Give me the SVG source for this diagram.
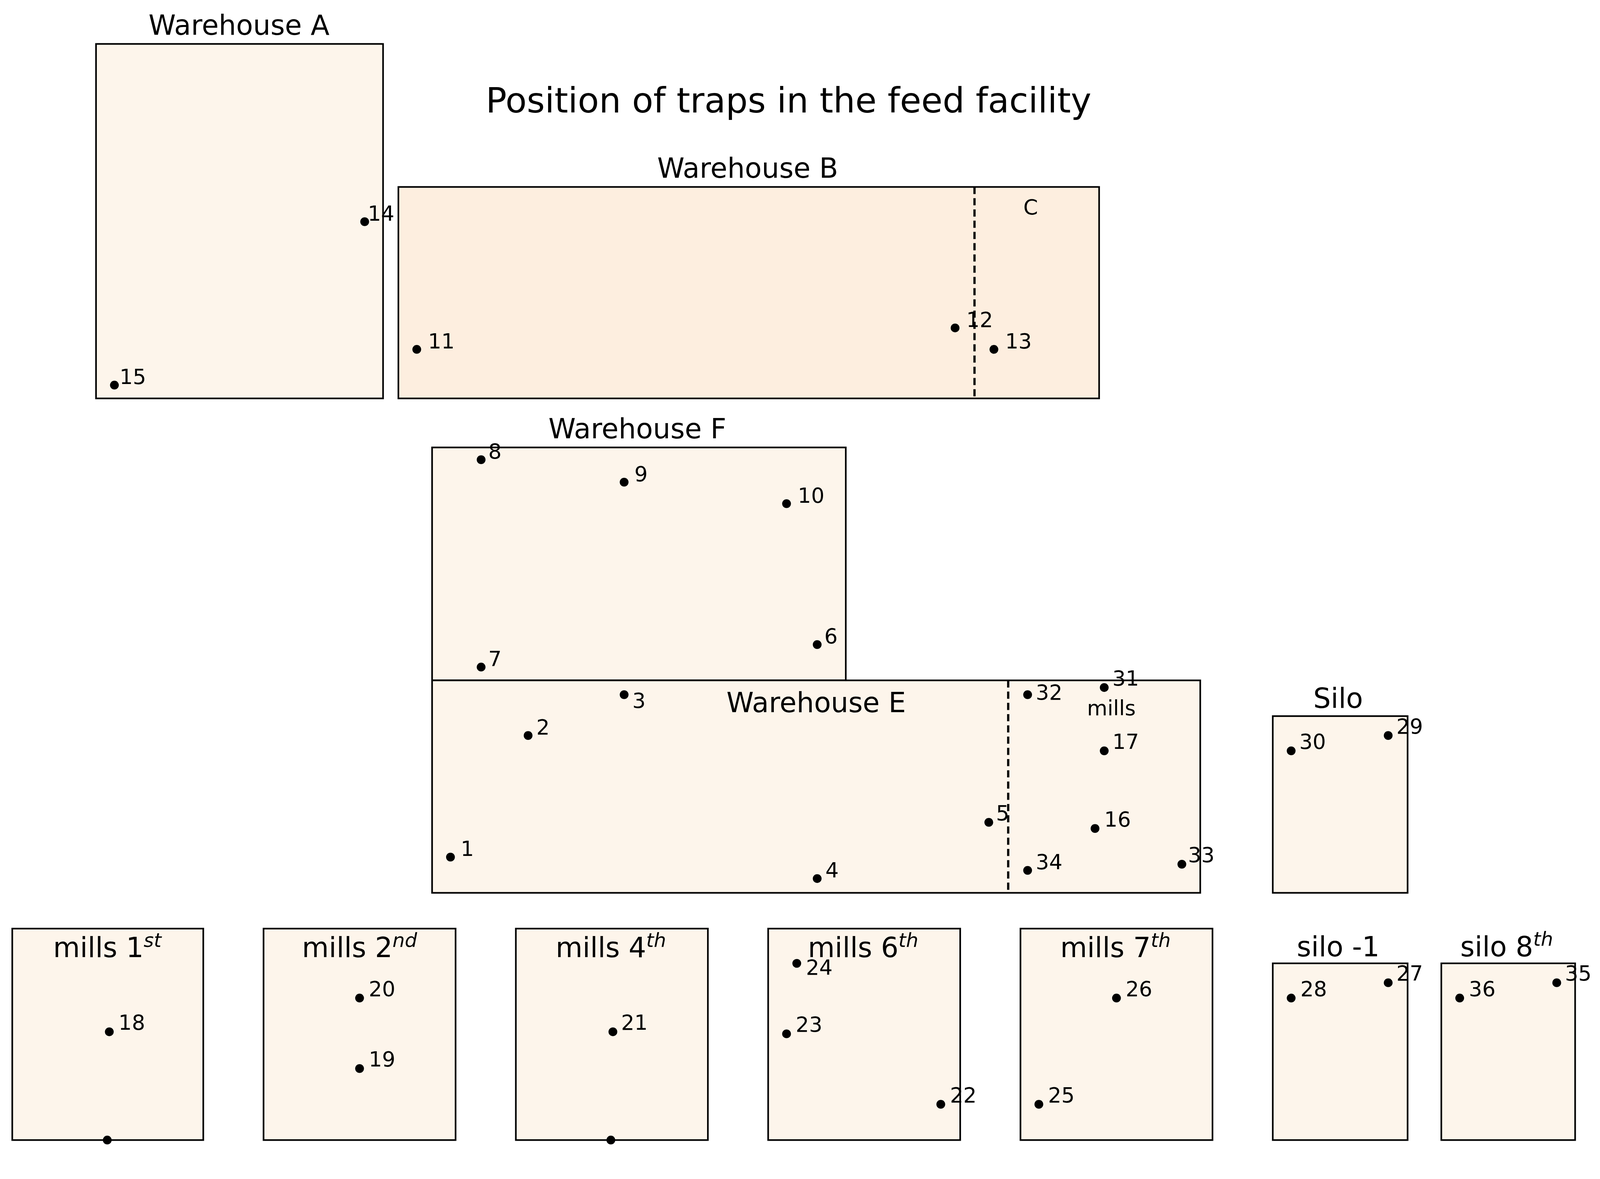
<svg xmlns="http://www.w3.org/2000/svg" width="4187" height="3018" viewBox="0 0 4187 3018">
<style>
.b{fill:#fdf5eb;stroke:#000;stroke-width:1.6}
.bb{fill:#fdeedf;stroke:#000;stroke-width:1.6}
.d{stroke:#000;stroke-width:2.2;stroke-dasharray:7,4;fill:none}
text{font-family:"DejaVu Sans","Liberation Sans",sans-serif;fill:#000}
.t{font-size:34px;text-anchor:middle}
.l{font-size:27px;text-anchor:middle}
.n{font-size:20.5px}
.s{font-size:19px;font-style:italic}
.p{fill:#000}
</style>
<rect width="4187" height="3018" fill="#fff"/>
<g transform="scale(2.615)">
<text class="t" x="772" y="110">Position of traps in the feed facility</text>
<g id="warehouseA"><rect class="b" x="94" y="43" width="281" height="347"/><text class="l" x="234" y="34">Warehouse A</text>
<circle class="p" cx="357" cy="217" r="4.3"/><text class="n" x="360" y="216">14</text>
<circle class="p" cx="112" cy="377" r="4.3"/><text class="n" x="117" y="376">15</text></g>
<g id="warehouseB"><rect class="bb" x="390" y="183" width="686" height="207"/><line class="d" x1="954" y1="183" x2="954" y2="390"/>
<text class="l" x="732" y="174">Warehouse B</text><text class="n" x="1009" y="210" text-anchor="middle">C</text>
<circle class="p" cx="408" cy="342" r="4.3"/><text class="n" x="419" y="341">11</text>
<circle class="p" cx="935" cy="321" r="4.3"/><text class="n" x="946" y="320">12</text>
<circle class="p" cx="973" cy="342" r="4.3"/><text class="n" x="984" y="341">13</text></g>
<g id="warehouseF"><rect class="b" x="423" y="438" width="405" height="228"/><text class="l" x="624" y="429">Warehouse F</text>
<circle class="p" cx="471" cy="450" r="4.3"/><text class="n" x="478" y="449">8</text>
<circle class="p" cx="611" cy="472" r="4.3"/><text class="n" x="621" y="471">9</text>
<circle class="p" cx="770" cy="493" r="4.3"/><text class="n" x="781" y="492">10</text>
<circle class="p" cx="471" cy="653" r="4.3"/><text class="n" x="478" y="652">7</text>
<circle class="p" cx="800" cy="631" r="4.3"/><text class="n" x="807" y="630">6</text></g>
<g id="warehouseE"><rect class="b" x="423" y="666" width="752" height="208"/><line class="d" x1="987" y1="666" x2="987" y2="874"/>
<text class="l" x="799" y="697">Warehouse E</text><text class="n" x="1088" y="700" text-anchor="middle">mills</text>
<circle class="p" cx="611" cy="680" r="4.3"/><text class="n" x="619" y="693">3</text>
<circle class="p" cx="517" cy="720" r="4.3"/><text class="n" x="525" y="719">2</text>
<circle class="p" cx="441" cy="839" r="4.3"/><text class="n" x="451" y="838">1</text>
<circle class="p" cx="800" cy="860" r="4.3"/><text class="n" x="808" y="859">4</text>
<circle class="p" cx="968" cy="805" r="4.3"/><text class="n" x="975" y="803">5</text>
<circle class="p" cx="1006" cy="680" r="4.3"/><text class="n" x="1014" y="685">32</text>
<circle class="p" cx="1081" cy="673" r="4.3"/><text class="n" x="1089" y="671">31</text>
<circle class="p" cx="1081" cy="735" r="4.3"/><text class="n" x="1089" y="733">17</text>
<circle class="p" cx="1072" cy="811" r="4.3"/><text class="n" x="1081" y="809">16</text>
<circle class="p" cx="1006" cy="852" r="4.3"/><text class="n" x="1014" y="851">34</text>
<circle class="p" cx="1157" cy="846" r="4.3"/><text class="n" x="1163" y="844">33</text></g>
<g id="silo"><rect class="b" x="1246" y="701" width="132" height="173"/><text class="l" x="1310" y="693">Silo</text>
<circle class="p" cx="1264" cy="735" r="4.3"/><text class="n" x="1272" y="733">30</text>
<circle class="p" cx="1359" cy="720" r="4.3"/><text class="n" x="1367" y="718">29</text></g>
<g id="mills1"><rect class="b" x="12" y="909" width="187" height="207"/><text class="l" x="105" y="937">mills 1<tspan class="s" dy="-10">st</tspan></text>
<circle class="p" cx="107" cy="1010" r="4.3"/><text class="n" x="116" y="1008">18</text>
<circle class="p" cx="105" cy="1116" r="4.3"/></g>
<g id="mills2"><rect class="b" x="258" y="909" width="188" height="207"/><text class="l" x="352" y="937">mills 2<tspan class="s" dy="-10">nd</tspan></text>
<circle class="p" cx="352" cy="977" r="4.3"/><text class="n" x="361" y="975">20</text>
<circle class="p" cx="352" cy="1046" r="4.3"/><text class="n" x="361" y="1044">19</text></g>
<g id="mills4"><rect class="b" x="505" y="909" width="188" height="207"/><text class="l" x="598" y="937">mills 4<tspan class="s" dy="-10">th</tspan></text>
<circle class="p" cx="600" cy="1010" r="4.3"/><text class="n" x="608" y="1008">21</text>
<circle class="p" cx="598" cy="1116" r="4.3"/></g>
<g id="mills6"><rect class="b" x="752" y="909" width="188" height="207"/><text class="l" x="845" y="937">mills 6<tspan class="s" dy="-10">th</tspan></text>
<circle class="p" cx="780" cy="943" r="4.3"/><text class="n" x="789" y="954">24</text>
<circle class="p" cx="770" cy="1012" r="4.3"/><text class="n" x="779" y="1010">23</text>
<circle class="p" cx="921" cy="1081" r="4.3"/><text class="n" x="930" y="1079">22</text></g>
<g id="mills7"><rect class="b" x="999" y="909" width="188" height="207"/><text class="l" x="1092" y="937">mills 7<tspan class="s" dy="-10">th</tspan></text>
<circle class="p" cx="1093" cy="977" r="4.3"/><text class="n" x="1102" y="975">26</text>
<circle class="p" cx="1017" cy="1081" r="4.3"/><text class="n" x="1026" y="1079">25</text></g>
<g id="silo-1"><rect class="b" x="1246" y="943" width="132" height="173"/><text class="l" x="1310" y="936">silo -1</text>
<circle class="p" cx="1264" cy="977" r="4.3"/><text class="n" x="1273" y="975">28</text>
<circle class="p" cx="1359" cy="962" r="4.3"/><text class="n" x="1367" y="960">27</text></g>
<g id="silo8"><rect class="b" x="1411" y="943" width="131" height="173"/><text class="l" x="1475" y="936">silo 8<tspan class="s" dy="-10">th</tspan></text>
<circle class="p" cx="1429" cy="977" r="4.3"/><text class="n" x="1438" y="975">36</text>
<circle class="p" cx="1524" cy="962" r="4.3"/><text class="n" x="1532" y="960">35</text></g>
<g id="connectors"/>
</g>
</svg>
